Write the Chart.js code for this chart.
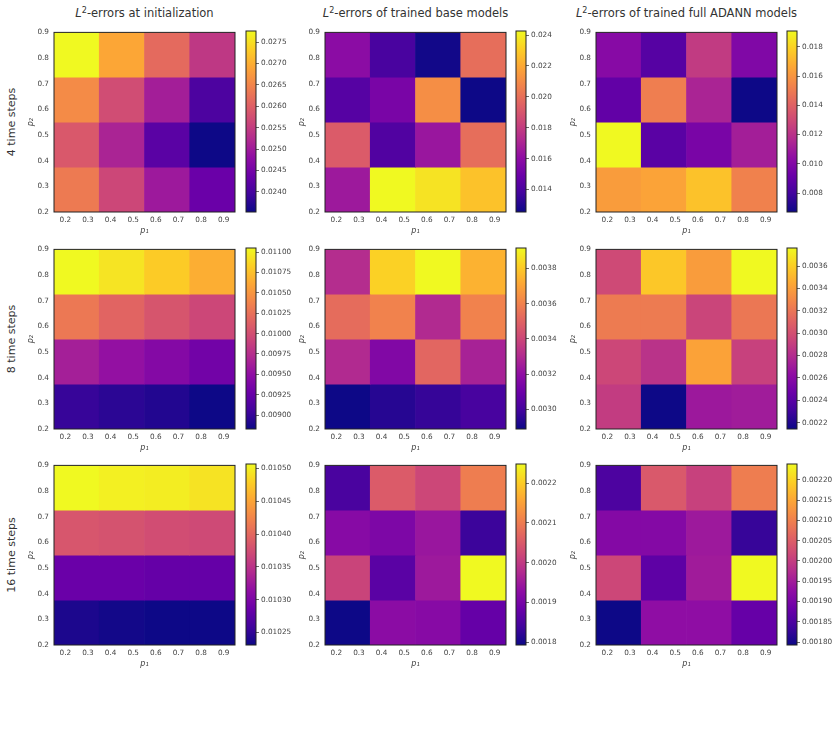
<!DOCTYPE html>
<html>
<head>
<meta charset="utf-8">
<script src="https://cdn.jsdelivr.net/npm/chart.js@4.4.0/dist/chart.umd.min.js"></script>
<style>
    body { margin: 0; background: #fff; }
    #page { position: relative; width: 838px; height: 756px; overflow: hidden; background: #fff; font-family: 'DejaVu Sans', sans-serif; color: #333; }
    #page canvas { position: absolute; }
    .coltitle { position: absolute; width: 300px; text-align: center; font-size: 11.5px; line-height: 14px; white-space: nowrap; }
    .coltitle sup { font-size: 0.7em; vertical-align: 0.5em; line-height: 0; }
    .rowlabel { position: absolute; width: 160px; height: 14px; line-height: 14px; text-align: center; font-size: 11px; white-space: nowrap; transform: rotate(-90deg); }
</style>
</head>
<body>
<div id="page"></div>
<script>
var columnTitles = ['-errors at initialization', '-errors of trained base models', '-errors of trained full ADANN models'];
var rowLabels = ['4 time steps', '8 time steps', '16 time steps'];
var pBinLabels = ['0.2-0.375', '0.375-0.55', '0.55-0.725', '0.725-0.9'];
var pEdges = [0.2, 0.375, 0.55, 0.725, 0.9];
var pTicks = [0.2, 0.3, 0.4, 0.5, 0.6, 0.7, 0.8, 0.9];

// L2 errors, rows from p2 = 0.9 (top) down to p2 = 0.2, columns p1 = 0.2 -> 0.9
var init4 = [
    [0.02776, 0.02691, 0.02615, 0.02543],
    [0.02658, 0.02573, 0.02505, 0.02408],
    [0.02590, 0.02514, 0.02421, 0.02353],
    [0.02636, 0.02565, 0.02497, 0.02438]
];
var base4 = [
    [0.01595, 0.01396, 0.01267, 0.01993],
    [0.01431, 0.01536, 0.02110, 0.01255],
    [0.01922, 0.01419, 0.01641, 0.01993],
    [0.01653, 0.02426, 0.02367, 0.02274]
];
var full4 = [
    [0.01017, 0.00857, 0.01240, 0.00993],
    [0.00894, 0.01512, 0.01141, 0.00671],
    [0.01908, 0.00869, 0.00968, 0.01116],
    [0.01623, 0.01648, 0.01747, 0.01525]
];
var init8 = [
    [0.01105, 0.01094, 0.01081, 0.01065],
    [0.01030, 0.01016, 0.01005, 0.00994],
    [0.00963, 0.00952, 0.00943, 0.00932],
    [0.00901, 0.00896, 0.00892, 0.00883]
];
var base8 = [
    [0.00331, 0.00382, 0.003915, 0.00374],
    [0.00353, 0.00360, 0.00330, 0.00360],
    [0.00330, 0.00316, 0.00351, 0.00327],
    [0.00289, 0.00294, 0.00297, 0.00301]
];
var full8 = [
    [0.00297, 0.00357, 0.00339, 0.003761],
    [0.00323, 0.00323, 0.00294, 0.00321],
    [0.00295, 0.00284, 0.00342, 0.00292],
    [0.00289, 0.002143, 0.00269, 0.00271]
];
var init16 = [
    [0.010507, 0.010501, 0.010499, 0.010493],
    [0.010383, 0.010380, 0.010375, 0.010372],
    [0.010286, 0.010286, 0.010283, 0.010283],
    [0.010239, 0.010234, 0.010231, 0.010231]
];
var base16 = [
    [0.001848, 0.002052, 0.002021, 0.002102],
    [0.001920, 0.001907, 0.001943, 0.001834],
    [0.002016, 0.001866, 0.001948, 0.002248],
    [0.001793, 0.001925, 0.001920, 0.001879]
];
var full16 = [
    [0.001851, 0.002043, 0.002007, 0.002096],
    [0.001913, 0.001913, 0.001945, 0.001829],
    [0.002016, 0.001869, 0.001949, 0.002239],
    [0.001793, 0.001927, 0.001927, 0.001878]
];

// colorbar tick labels
var cbInit4 = [0.0240, 0.0245, 0.0250, 0.0255, 0.0260, 0.0265, 0.0270, 0.0275];
var cbBase4 = [0.014, 0.016, 0.018, 0.020, 0.022, 0.024];
var cbFull4 = [0.008, 0.010, 0.012, 0.014, 0.016, 0.018];
var cbInit8 = [0.00900, 0.00925, 0.00950, 0.00975, 0.01000, 0.01025, 0.01050, 0.01075, 0.01100];
var cbBase8 = [0.0030, 0.0032, 0.0034, 0.0036, 0.0038];
var cbFull8 = [0.0022, 0.0024, 0.0026, 0.0028, 0.0030, 0.0032, 0.0034, 0.0036];
var cbInit16 = [0.01025, 0.01030, 0.01035, 0.01040, 0.01045, 0.01050];
var cbBase16 = [0.0018, 0.0019, 0.0020, 0.0021, 0.0022];
var cbFull16 = [0.00180, 0.00185, 0.00190, 0.00195, 0.00200, 0.00205, 0.00210, 0.00215, 0.00220];

var panels = [
    [[init4, cbInit4, 4], [base4, cbBase4, 3], [full4, cbFull4, 3]],
    [[init8, cbInit8, 5], [base8, cbBase8, 4], [full8, cbFull8, 4]],
    [[init16, cbInit16, 5], [base16, cbBase16, 4], [full16, cbFull16, 5]]
];

// layout (px)
var plotLefts = [54, 325, 596];
var plotTops = [31, 248, 464];
var plotSize = 181;
var cbLefts = [246, 516, 787];
var cbWidth = 10;

var plasmaStops = ['#0d0887', '#41049d', '#6a00a8', '#8f0da4', '#b12a90', '#cc4778', '#e16462', '#f2844b', '#fca636', '#fcce25', '#f0f921'];

Chart.defaults.font.family = "'DejaVu Sans', sans-serif";
Chart.defaults.color = '#444';
Chart.defaults.animation = false;

function hexToRgb(h) {
    return [parseInt(h.substr(1, 2), 16), parseInt(h.substr(3, 2), 16), parseInt(h.substr(5, 2), 16)];
}
function plasma(t) {
    t = Math.max(0, Math.min(1, t));
    var s = t * 10, i = Math.min(9, Math.floor(s)), f = s - i;
    var a = hexToRgb(plasmaStops[i]), b = hexToRgb(plasmaStops[i + 1]);
    return 'rgb(' + Math.round(a[0] + (b[0] - a[0]) * f) + ',' + Math.round(a[1] + (b[1] - a[1]) * f) + ',' + Math.round(a[2] + (b[2] - a[2]) * f) + ')';
}

var framePlugin = {
    id: 'frame',
    afterDatasetsDraw: function (chart) {
        var a = chart.chartArea, ctx = chart.ctx;
        ctx.save();
        ctx.strokeStyle = '#222';
        ctx.lineWidth = 1;
        ctx.strokeRect(a.left, a.top, a.right - a.left, a.bottom - a.top);
        ctx.restore();
    }
};

function AddCanvas(left, top, width, height) {
    var c = document.createElement('canvas');
    c.width = width;
    c.height = height;
    c.style.left = left + 'px';
    c.style.top = top + 'px';
    c.style.width = width + 'px';
    c.style.height = height + 'px';
    document.getElementById('page').appendChild(c);
    return c;
}

function GridRange(grid) {
    var flat = [].concat.apply([], grid);
    return [Math.min.apply(null, flat), Math.max.apply(null, flat)];
}

function BindHeatmap(grid, left, top) {
    var range = GridRange(grid);
    var canvas = AddCanvas(left - 30, top - 8, 30 + plotSize + 10, 8 + plotSize + 26);
    var datasets = grid.map(function (row, r) {
        var lo = pEdges[3 - r], hi = pEdges[4 - r];
        return {
            xAxisID: 'xc',
            yAxisID: 'y',
            data: row.map(function () { return [lo, hi]; }),
            backgroundColor: row.map(function (v) { return plasma((v - range[0]) / (range[1] - range[0])); }),
            borderWidth: 0,
            grouped: false,
            barPercentage: 1,
            categoryPercentage: 1
        };
    });
    new Chart(canvas, {
        type: 'bar',
        plugins: [framePlugin],
        data: { labels: pBinLabels, datasets: datasets },
        options: {
            responsive: false,
            layout: { padding: { left: 0, top: 8, right: 10, bottom: 0 } },
            plugins: { legend: { display: false }, tooltip: { enabled: false } },
            scales: {
                xc: { type: 'category', display: false, offset: true },
                x: {
                    type: 'linear', position: 'bottom', min: 0.2, max: 0.9, bounds: 'data',
                    afterBuildTicks: function (s) { s.ticks = pTicks.map(function (v) { return { value: v }; }); },
                    afterFit: function (s) { s.height = 26; },
                    ticks: { autoSkip: false, maxRotation: 0, padding: 4, font: { size: 7.3 }, callback: function (v) { return v.toFixed(1); } },
                    grid: { display: false, drawTicks: false },
                    border: { display: false },
                    title: { display: true, text: 'p\u2081', font: { size: 8, style: 'italic' }, padding: { top: 0, bottom: 2 } }
                },
                y: {
                    type: 'linear', position: 'left', min: 0.2, max: 0.9, bounds: 'data',
                    afterBuildTicks: function (s) { s.ticks = pTicks.map(function (v) { return { value: v }; }); },
                    afterFit: function (s) { s.width = 30; },
                    ticks: { autoSkip: false, padding: 5, font: { size: 7.3 }, callback: function (v) { return v.toFixed(1); } },
                    grid: { display: false, drawTicks: false },
                    border: { display: false },
                    title: { display: true, text: 'p\u2082', font: { size: 8, style: 'italic' }, padding: { top: 2, bottom: 0 } }
                }
            }
        }
    });
}

function BindColorbar(grid, ticks, decimals, left, top) {
    var range = GridRange(grid);
    var canvas = AddCanvas(left - 1, top - 8, 1 + cbWidth + 42, 8 + plotSize + 8);
    new Chart(canvas, {
        type: 'bar',
        plugins: [framePlugin],
        data: {
            labels: [''],
            datasets: [{
                data: [[range[0], range[1]]],
                borderWidth: 0,
                barPercentage: 1,
                categoryPercentage: 1,
                backgroundColor: function (ctx) {
                    var area = ctx.chart.chartArea;
                    if (!area) return plasmaStops[5];
                    var g = ctx.chart.ctx.createLinearGradient(0, area.bottom, 0, area.top);
                    plasmaStops.forEach(function (c, i) { g.addColorStop(i / 10, c); });
                    return g;
                }
            }]
        },
        options: {
            responsive: false,
            layout: { padding: { left: 1, top: 8, right: 0, bottom: 8 } },
            plugins: { legend: { display: false }, tooltip: { enabled: false } },
            scales: {
                x: { type: 'category', display: false },
                y: {
                    type: 'linear', position: 'right', min: range[0], max: range[1], bounds: 'data',
                    afterBuildTicks: function (s) { s.ticks = ticks.map(function (v) { return { value: v }; }); },
                    afterFit: function (s) { s.width = 42; },
                    ticks: { autoSkip: false, padding: 2, font: { size: 7.3 }, callback: function (v) { return v.toFixed(decimals); } },
                    grid: { drawOnChartArea: false, drawTicks: true, tickLength: 3, color: '#444', lineWidth: 0.8 },
                    border: { display: false }
                }
            }
        }
    });
}

function BindTexts() {
    var page = document.getElementById('page');
    columnTitles.forEach(function (t, c) {
        var d = document.createElement('div');
        d.className = 'coltitle';
        d.style.left = (plotLefts[c] + plotSize / 2 - 150) + 'px';
        d.style.top = '6px';
        d.innerHTML = '<i>L</i><sup>2</sup>' + t;
        page.appendChild(d);
    });
    rowLabels.forEach(function (t, r) {
        var d = document.createElement('div');
        d.className = 'rowlabel';
        d.style.left = (12 - 80) + 'px';
        d.style.top = (plotTops[r] + plotSize / 2 - 7) + 'px';
        d.textContent = t;
        page.appendChild(d);
    });
}

BindTexts();
panels.forEach(function (row, r) {
    row.forEach(function (p, c) {
        BindHeatmap(p[0], plotLefts[c], plotTops[r]);
        BindColorbar(p[0], p[1], p[2], cbLefts[c], plotTops[r]);
    });
});
</script>
</body>
</html>
